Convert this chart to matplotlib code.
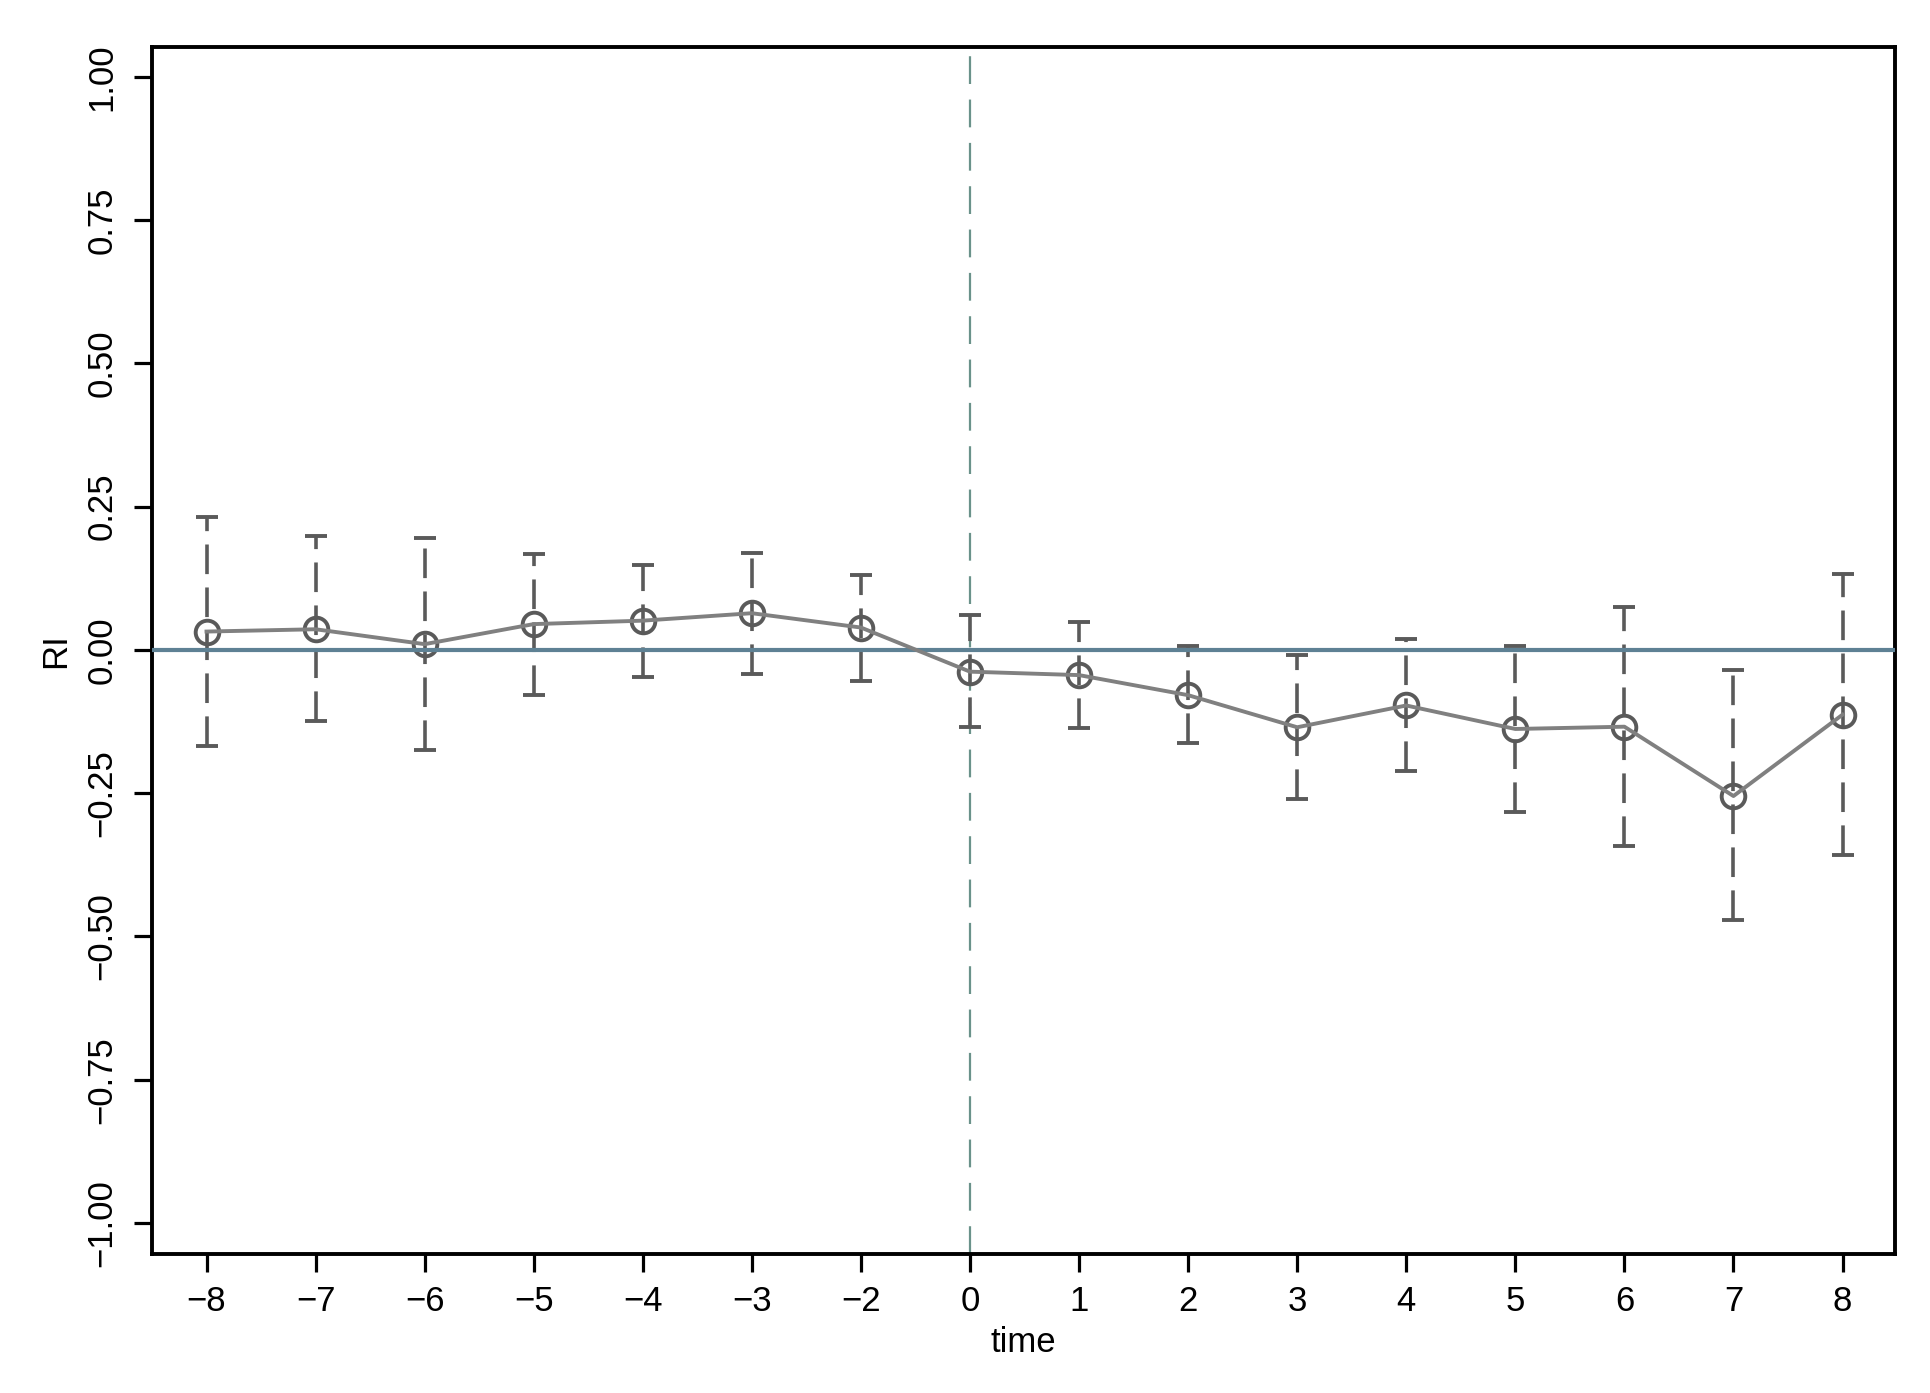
import numpy as np
import matplotlib
matplotlib.use("Agg")
import matplotlib.pyplot as plt

plt.rcParams['font.family'] = ['Liberation Sans', 'DejaVu Sans']

# event time labels (no -1 period) and estimates
time_labels = ['−8', '−7', '−6', '−5', '−4', '−3', '−2', '0',
               '1', '2', '3', '4', '5', '6', '7', '8']
ri = [0.032, 0.036, 0.010, 0.045, 0.051, 0.064, 0.039, -0.038,
      -0.044, -0.079, -0.135, -0.097, -0.138, -0.134, -0.255, -0.113]
ci_low = [-0.168, -0.124, -0.175, -0.079, -0.048, -0.042, -0.054, -0.135,
          -0.137, -0.163, -0.261, -0.211, -0.283, -0.342, -0.471, -0.358]
ci_high = [0.231, 0.199, 0.195, 0.167, 0.148, 0.169, 0.131, 0.061,
           0.049, 0.007, -0.009, 0.019, 0.007, 0.074, -0.035, 0.132]

y_ticks = [-1.0, -0.75, -0.5, -0.25, 0.0, 0.25, 0.5, 0.75, 1.0]
y_tick_labels = ['−1.00', '−0.75', '−0.50', '−0.25', '0.00', '0.25', '0.50', '0.75', '1.00']

x = np.arange(len(time_labels))
ri = np.array(ri)
err = [ri - np.array(ci_low), np.array(ci_high) - ri]

fig = plt.figure(figsize=(19.31, 13.93), dpi=100)
ax = fig.add_axes([0.0787, 0.0998, 0.9026, 0.8665])

# reference line at treatment time (label "0")
ax.axvline(time_labels.index('0'), color='#6a928a', lw=1.6,
           linestyle=(0, (12.5, 7)), zorder=1)

# error bars + hollow markers
eb = ax.errorbar(x, ri, yerr=err, fmt='o', color='#5a5a5a', ecolor='#5a5a5a',
                 elinewidth=2.6, capsize=8, capthick=3,
                 markersize=17, markerfacecolor='none', markeredgewidth=2.8,
                 markeredgecolor='#5a5a5a', zorder=2)
eb[2][0].set_linestyle((0, (8.2, 3.7)))

ax.axhline(0, color='#5e8194', lw=3, zorder=3)
ax.plot(x, ri, color='#808080', lw=2.8, zorder=4)

ax.set_xlim(-0.5, 15.48)
ax.set_ylim(-1.054, 1.052)
ax.set_xticks(x)
ax.set_xticklabels(time_labels)
ax.set_yticks(y_ticks)
ax.set_yticklabels(y_tick_labels, rotation=90, va='center')

ax.tick_params(axis='both', length=13, width=2.3, labelsize=25, color='black')
ax.tick_params(axis='x', pad=9)
ax.tick_params(axis='y', pad=11)
for s in ax.spines.values():
    s.set_linewidth(2.8)

ax.set_xlabel('time', fontsize=25, labelpad=6)
ax.set_ylabel('RI', fontsize=25, labelpad=10)

fig.savefig('out.png', dpi=100, facecolor='white')
